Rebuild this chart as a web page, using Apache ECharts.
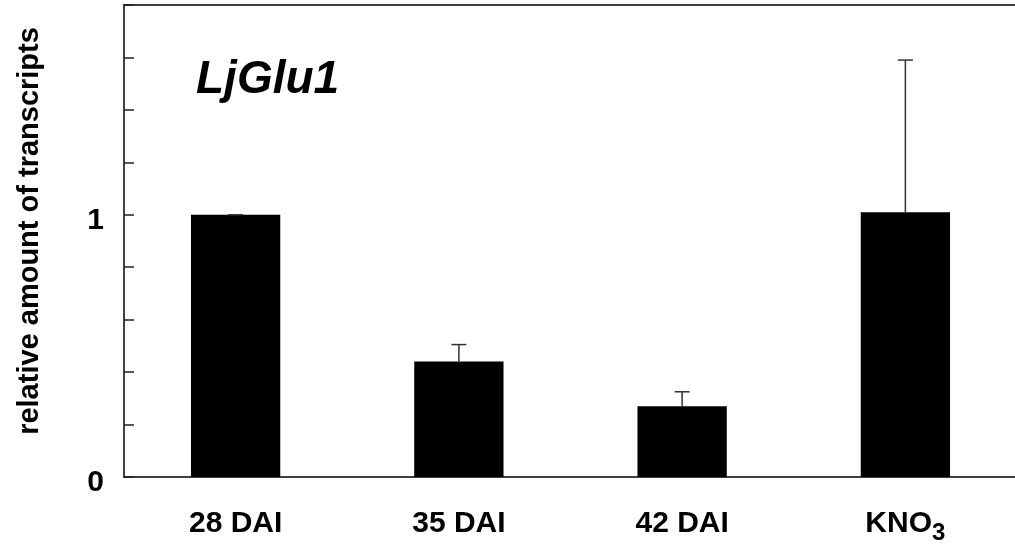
<!DOCTYPE html>
<html>
<head>
<meta charset="utf-8">
<script src="https://cdn.jsdelivr.net/npm/echarts@6/dist/echarts.min.js"></script>
<style>
  html, body { margin: 0; padding: 0; background: #fff; }
  #chart { width: 1015px; height: 547px; }
</style>
</head>
<body>
<div id="chart"></div>
<script>
// Relative transcript levels of LjGlu1 per sampling point
const categories = ['28 DAI', '35 DAI', '42 DAI', 'KNO3'];
const means = [1.0, 0.44, 0.27, 1.01];
const errors = [0.0, 0.065, 0.055, 0.58];
const yTickLabels = { 0: '0', 1: '1' };

const FONT = 'Liberation Sans, Arial, sans-serif';
const boldText = { fontFamily: FONT, fontWeight: 'bold', color: '#000' };

const chart = echarts.init(document.getElementById('chart'));

chart.setOption({
  animation: false,
  backgroundColor: '#fff',
  title: {
    text: 'LjGlu1',
    left: 191,
    top: 52,
    textStyle: Object.assign({ fontSize: 46, fontStyle: 'italic' }, boldText)
  },
  grid: { left: 124, top: 5, width: 893, height: 472, containLabel: false, outerBoundsMode: 'none' },
  xAxis: [
    {
      type: 'category',
      data: categories,
      boundaryGap: true,
      axisLine: { lineStyle: { color: '#000', width: 1.5 } },
      axisTick: { inside: true, length: 10, lineStyle: { color: '#222', width: 1.5 } },
      axisLabel: {
        interval: 0,
        margin: 33,
        fontFamily: FONT, fontSize: 30, fontWeight: 'bold', color: '#000',
        // chemical formula gets a subscript digit
        formatter: v => v === 'KNO3' ? '{b|KNO}{s|3}' : '{b|' + v + '}',
        rich: {
          b: Object.assign({ fontSize: 30, lineHeight: 34, padding: [0, 0, 6, 0] }, boldText),
          s: Object.assign({ fontSize: 24, lineHeight: 28, padding: [12, 0, 0, 0] }, boldText)
        }
      }
    },
    {
      // frame line along the top of the plot
      type: 'category',
      position: 'top',
      data: categories,
      axisLine: { show: true, lineStyle: { color: '#000', width: 1.5 } },
      axisTick: { show: false },
      axisLabel: { show: false }
    }
  ],
  yAxis: {
    type: 'value',
    min: 0, max: 1.8, interval: 0.2,
    name: 'relative amount of transcripts',
    nameLocation: 'middle',
    nameRotate: 90,
    nameGap: 80,
    nameTextStyle: Object.assign({ fontSize: 29, padding: [0, 0, 0, 20] }, boldText),
    splitLine: { show: false },
    axisLine: { show: true, lineStyle: { color: '#000', width: 1.5 } },
    axisTick: { show: true, inside: true, length: 10, lineStyle: { color: '#222', width: 1.5 } },
    axisLabel: {
      margin: 20,
      formatter: v => {
        const r = Math.round(v * 10) / 10;
        return yTickLabels[r] !== undefined ? '{n|' + yTickLabels[r] + '}' : '';
      },
      rich: { n: Object.assign({ fontSize: 30, padding: [11, 0, 0, 0] }, boldText) }
    }
  },
  series: [
    {
      type: 'bar',
      data: means,
      barWidth: '40%',
      itemStyle: { color: '#000' },
      z: 2
    },
    {
      type: 'custom',
      z: 3,
      data: means.map((m, i) => [i, m, m + errors[i]]),
      renderItem: (params, api) => {
        const base = api.coord([api.value(0), api.value(1)]);
        const top = api.coord([api.value(0), api.value(2)]);
        const half = 7.5;
        return {
          type: 'group',
          children: [
            { type: 'line', shape: { x1: base[0], y1: base[1], x2: top[0], y2: top[1] },
              style: { stroke: '#333', lineWidth: 1.5 } },
            { type: 'line', shape: { x1: top[0] - half, y1: top[1], x2: top[0] + half, y2: top[1] },
              style: { stroke: '#333', lineWidth: 1.5 } }
          ]
        };
      }
    }
  ]
});
</script>
</body>
</html>
